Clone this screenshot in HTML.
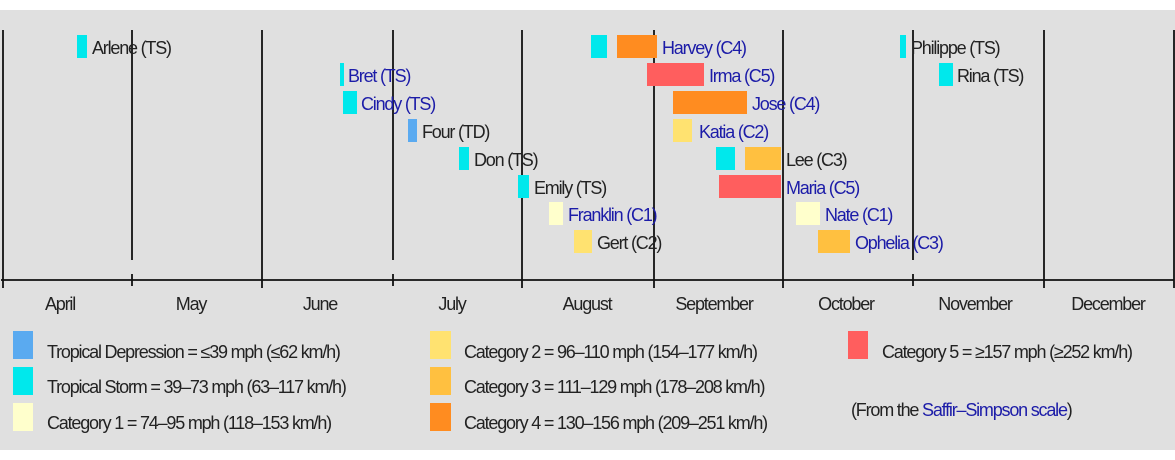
<!DOCTYPE html>
<html><head><meta charset="utf-8"><style>
html,body{margin:0;padding:0;background:#fff}
svg{display:block}
text{font-family:"Liberation Sans",sans-serif;font-size:18px;letter-spacing:-1.2px}
.b{fill:#1c1ca8}.k{fill:#222}
</style></head><body>
<svg width="1175" height="460" viewBox="0 0 1175 460">
<rect x="0" y="10" width="1175" height="440" fill="#e0e0e0"/>
<g stroke="#111" stroke-width="1.8">
<line x1="1" y1="280" x2="1174" y2="280"/>
<line x1="3" y1="30" x2="3" y2="288"/>
<line x1="132" y1="30" x2="132" y2="260"/><line x1="132" y1="274" x2="132" y2="286"/>
<line x1="262" y1="30" x2="262" y2="288"/>
<line x1="393" y1="30" x2="393" y2="260"/><line x1="393" y1="274" x2="393" y2="286"/>
<line x1="522" y1="30" x2="522" y2="288"/>
<line x1="654" y1="30" x2="654" y2="288"/>
<line x1="783" y1="30" x2="783" y2="288"/>
<line x1="913" y1="30" x2="913" y2="260"/><line x1="913" y1="274" x2="913" y2="286"/>
<line x1="1044" y1="30" x2="1044" y2="288"/>
<line x1="1174" y1="30" x2="1174" y2="288"/>
</g>
<rect x="77" y="35" width="10" height="23" fill="#00e8ec"/>
<rect x="340" y="63" width="4" height="23" fill="#00e8ec"/>
<rect x="343" y="91" width="14" height="23" fill="#00e8ec"/>
<rect x="408" y="119" width="9" height="23" fill="#5aaaf0"/>
<rect x="459" y="147" width="10" height="23" fill="#00e8ec"/>
<rect x="518" y="175" width="11" height="23" fill="#00e8ec"/>
<rect x="549" y="202" width="14" height="23" fill="#ffffcc"/>
<rect x="574" y="230" width="18" height="23" fill="#ffe270"/>
<rect x="591" y="35" width="16" height="23" fill="#00e8ec"/>
<rect x="617" y="35" width="40" height="23" fill="#ff8c20"/>
<rect x="647" y="63" width="57" height="23" fill="#ff5e5e"/>
<rect x="673" y="91" width="74" height="23" fill="#ff8c20"/>
<rect x="673" y="119" width="19" height="23" fill="#ffe270"/>
<rect x="716" y="147" width="19" height="23" fill="#00e8ec"/>
<rect x="745" y="147" width="36" height="23" fill="#ffc040"/>
<rect x="719" y="175" width="62" height="23" fill="#ff5e5e"/>
<rect x="796" y="202" width="24" height="23" fill="#ffffcc"/>
<rect x="818" y="230" width="32" height="23" fill="#ffc040"/>
<rect x="900" y="35" width="6" height="23" fill="#00e8ec"/>
<rect x="939" y="63" width="14" height="23" fill="#00e8ec"/>
<text x="92" y="54" class="k">Arlene (TS)</text>
<text x="348" y="82" class="b">Bret (TS)</text>
<text x="361" y="110" class="b">Cindy (TS)</text>
<text x="422" y="138" class="k">Four (TD)</text>
<text x="474" y="166" class="k">Don (TS)</text>
<text x="534" y="194" class="k">Emily (TS)</text>
<text x="568" y="221" class="b">Franklin (C1)</text>
<text x="597" y="249" class="k">Gert (C2)</text>
<text x="662" y="54" class="b">Harvey (C4)</text>
<text x="709" y="82" class="b">Irma (C5)</text>
<text x="752" y="110" class="b">Jose (C4)</text>
<text x="699" y="138" class="b">Katia (C2)</text>
<text x="786" y="166" class="k">Lee (C3)</text>
<text x="786" y="194" class="b">Maria (C5)</text>
<text x="825" y="221" class="b">Nate (C1)</text>
<text x="855" y="249" class="b">Ophelia (C3)</text>
<text x="911" y="54" class="k">Philippe (TS)</text>
<text x="957" y="82" class="k">Rina (TS)</text>
<g text-anchor="middle">
<text x="60" y="310" class="k">April</text>
<text x="191" y="310" class="k">May</text>
<text x="320" y="310" class="k">June</text>
<text x="452" y="310" class="k">July</text>
<text x="587" y="310" class="k">August</text>
<text x="714" y="310" class="k">September</text>
<text x="846" y="310" class="k">October</text>
<text x="975" y="310" class="k">November</text>
<text x="1108" y="310" class="k">December</text>
</g>
<rect x="13" y="331" width="20" height="28" fill="#5aaaf0"/>
<rect x="13" y="367" width="20" height="28" fill="#00e8ec"/>
<rect x="13" y="403" width="20" height="28" fill="#ffffcc"/>
<text x="47" y="358" class="k">Tropical Depression = ≤39 mph (≤62 km/h)</text>
<text x="47" y="393" class="k">Tropical Storm = 39–73 mph (63–117 km/h)</text>
<text x="47" y="429" class="k">Category 1 = 74–95 mph (118–153 km/h)</text>
<rect x="430" y="331" width="21" height="28" fill="#ffe270"/>
<rect x="430" y="367" width="21" height="28" fill="#ffc040"/>
<rect x="430" y="403" width="21" height="28" fill="#ff8c20"/>
<text x="464" y="358" class="k">Category 2 = 96–110 mph (154–177 km/h)</text>
<text x="464" y="393" class="k">Category 3 = 111–129 mph (178–208 km/h)</text>
<text x="464" y="429" class="k">Category 4 = 130–156 mph (209–251 km/h)</text>
<rect x="848" y="331" width="20" height="28" fill="#ff5e5e"/>
<text x="882" y="358" class="k">Category 5 = ≥157 mph (≥252 km/h)</text>
<text x="851" y="416" class="k">(From the <tspan class="b">Saffir–Simpson scale</tspan>)</text>
</svg>
</body></html>
